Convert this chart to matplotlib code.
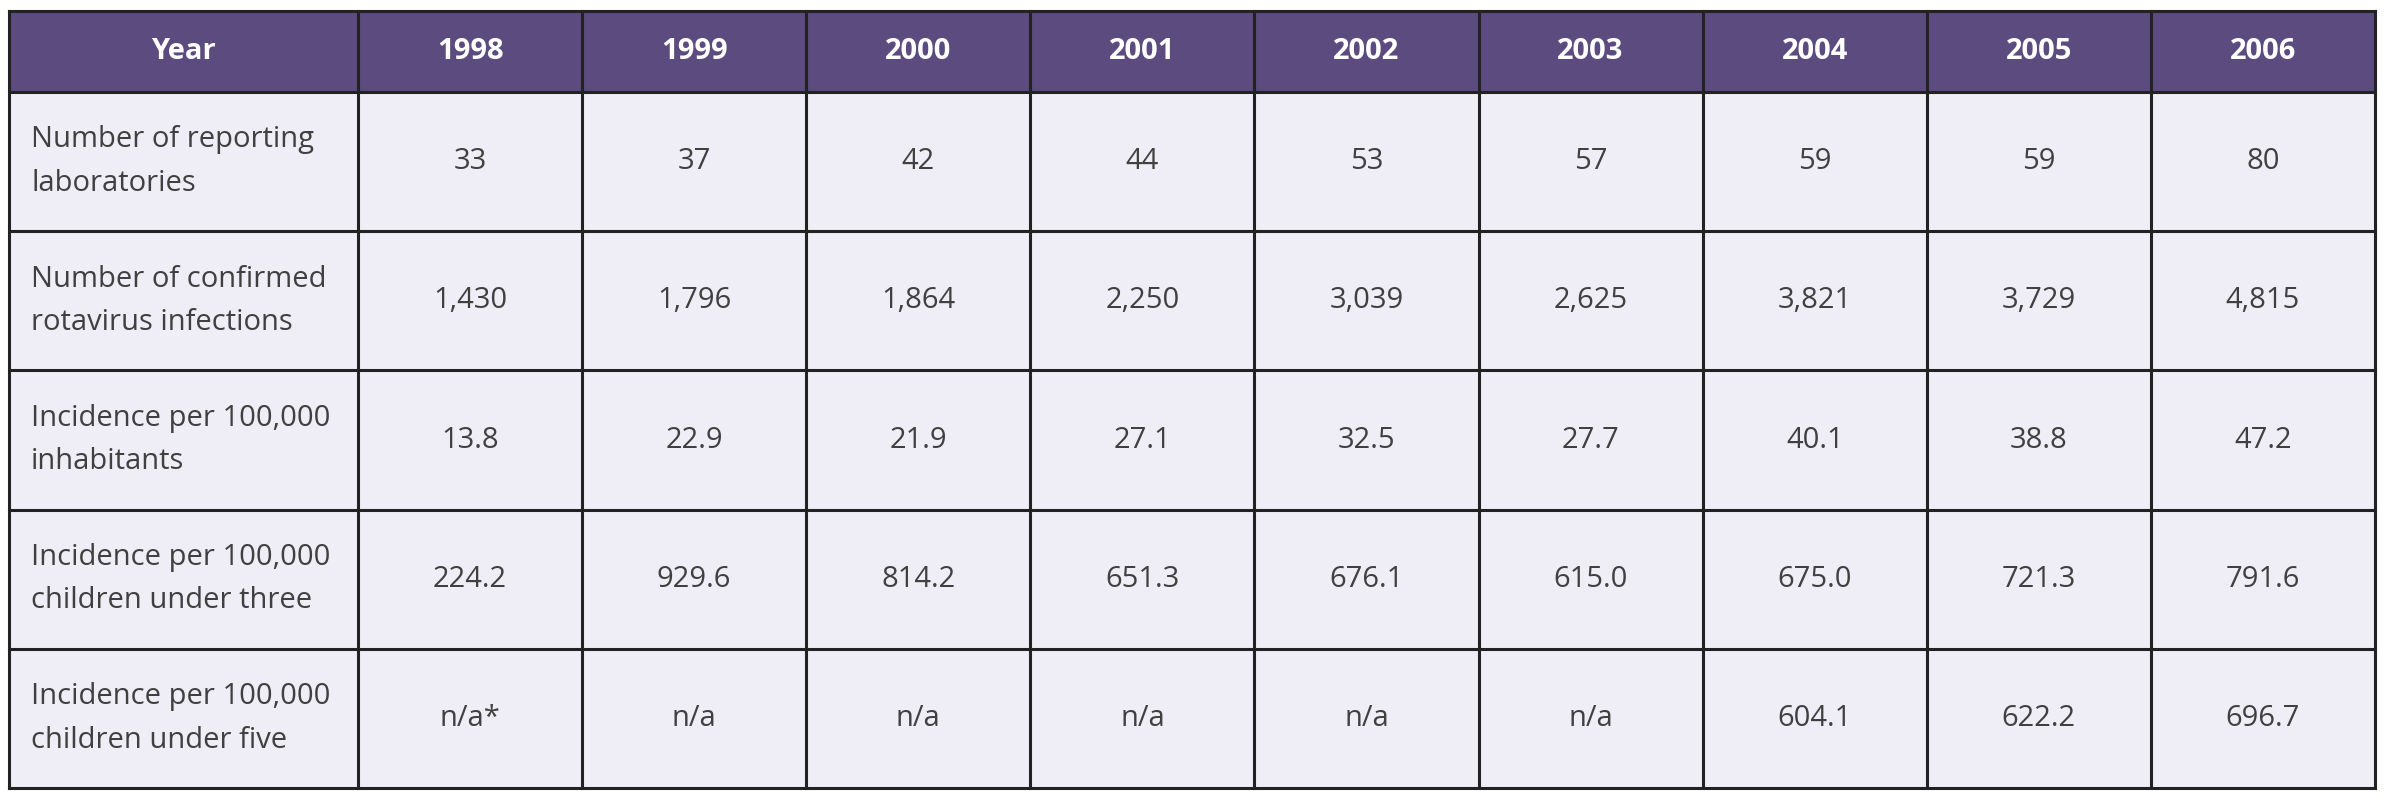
import matplotlib
matplotlib.use("Agg")
import matplotlib.pyplot as plt
from matplotlib.patches import Rectangle

years = ["1998", "1999", "2000", "2001", "2002", "2003", "2004", "2005", "2006"]
row_labels = ["Number of reporting\nlaboratories",
              "Number of confirmed\nrotavirus infections",
              "Incidence per 100,000\ninhabitants",
              "Incidence per 100,000\nchildren under three",
              "Incidence per 100,000\nchildren under five"]
labs = ["33", "37", "42", "44", "53", "57", "59", "59", "80"]
infections = ["1,430", "1,796", "1,864", "2,250", "3,039", "2,625", "3,821", "3,729", "4,815"]
inc_all = ["13.8", "22.9", "21.9", "27.1", "32.5", "27.7", "40.1", "38.8", "47.2"]
inc_u3 = ["224.2", "929.6", "814.2", "651.3", "676.1", "615.0", "675.0", "721.3", "791.6"]
inc_u5 = ["n/a*", "n/a", "n/a", "n/a", "n/a", "n/a", "604.1", "622.2", "696.7"]
rows = [labs, infections, inc_all, inc_u3, inc_u5]

W, H = 2387, 800
fig = plt.figure(figsize=(W/100, H/100), dpi=100)
ax = fig.add_axes([0, 0, 1, 1])
ax.set_xlim(0, W); ax.set_ylim(H, 0); ax.axis("off")

left, right, top, hbot, bottom = 9, 2375, 11, 92, 788
c0 = 358
ncol = len(years)
cw = (right - c0) / ncol
rh = (bottom - hbot) / len(rows)
xs = [left, c0] + [c0 + cw*(i+1) for i in range(ncol)]
ys = [top, hbot] + [hbot + rh*(i+1) for i in range(len(rows))]

hdr = "#5c4b7f"; cell = "#efedf5"; txt = "#404040"; edge = "#222222"
ax.add_patch(Rectangle((left, top), right-left, hbot-top, fc=hdr, ec="none"))
ax.add_patch(Rectangle((left, hbot), right-left, bottom-hbot, fc=cell, ec="none"))
for x in xs:
    ax.plot([x, x], [top, bottom], color=edge, lw=2.2, solid_capstyle="projecting")
for y in ys:
    ax.plot([left, right], [y, y], color=edge, lw=2.2, solid_capstyle="projecting")

fp = dict(family=["Open Sans", "DejaVu Sans"])
ax.text((left+c0)/2, (top+hbot)/2, "Year", color="white", fontsize=21, fontweight="bold",
        ha="center", va="center", **fp)
for i, yr in enumerate(years):
    ax.text((xs[i+1]+xs[i+2])/2, (top+hbot)/2, yr, color="white", fontsize=21,
            fontweight="bold", ha="center", va="center", **fp)
for r, (lab, vals) in enumerate(zip(row_labels, rows)):
    yc = (ys[r+1] + ys[r+2]) / 2
    ax.text(left + 22, yc, lab, color=txt, fontsize=21, ha="left", va="center",
            linespacing=1.65, **fp)
    for i, v in enumerate(vals):
        ax.text((xs[i+1]+xs[i+2])/2, yc, v, color=txt, fontsize=21, ha="center",
                va="center", **fp)

fig.savefig("out.png", dpi=100, facecolor="white")
